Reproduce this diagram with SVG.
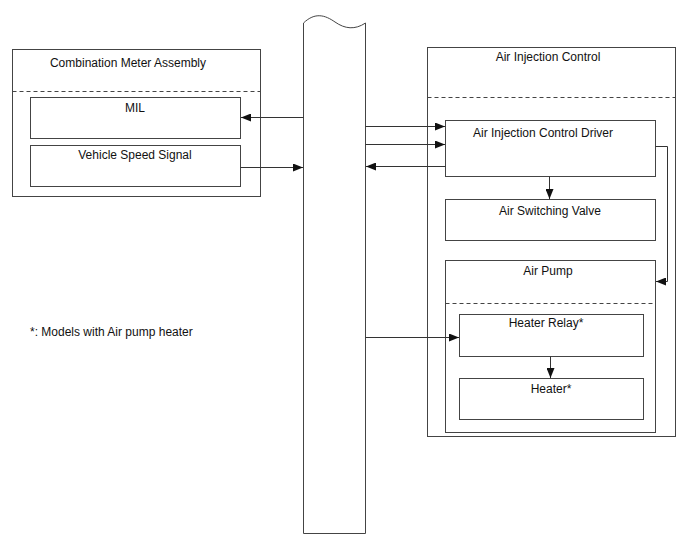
<svg xmlns="http://www.w3.org/2000/svg" width="688" height="560" viewBox="0 0 688 560">
<style>
.box{fill:#fff;stroke:#444;stroke-width:1}
.dash{stroke:#444;stroke-width:1;stroke-dasharray:4 3;fill:none}
.ln{stroke:#333;stroke-width:1;fill:none}
.t{font-family:"Liberation Sans",Arial,sans-serif;font-size:12px;fill:#111}
.c{text-anchor:middle}
</style>
<defs>
<marker id="ah" markerWidth="10" markerHeight="8" refX="10" refY="4" orient="auto" markerUnits="userSpaceOnUse">
<path d="M0,0 L10,4 L0,8 Z" fill="#111"/>
</marker>
</defs>
<rect width="688" height="560" fill="#fff"/>

<g id="bus">
<path class="box" d="M303.5,23 C315,12 325,15 335,22 C345,29 355,30 365.5,23 L365.5,533.5 L303.5,533.5 Z"/>
</g>

<g id="combination-meter">
<rect class="box" x="12.5" y="49.5" width="248" height="147"/>
<line class="dash" x1="12.5" y1="91.5" x2="260.5" y2="91.5"/>
<text class="t c" x="128" y="67">Combination Meter Assembly</text>
</g>
<g id="mil">
<rect class="box" x="30.5" y="97.5" width="210" height="41"/>
<text class="t c" x="135" y="112">MIL</text>
</g>
<g id="vss">
<rect class="box" x="30.5" y="145.5" width="210" height="41"/>
<text class="t c" x="135" y="159">Vehicle Speed Signal</text>
</g>

<g id="air-injection-control">
<rect class="box" x="427.5" y="47.5" width="248" height="389"/>
<line class="dash" x1="427.5" y1="97.5" x2="675.5" y2="97.5"/>
<text class="t c" x="548" y="61">Air Injection Control</text>
</g>
<g id="driver">
<rect class="box" x="445.5" y="120.5" width="210" height="56"/>
<text class="t c" x="543" y="137">Air Injection Control Driver</text>
</g>
<g id="asv">
<rect class="box" x="445.5" y="199.5" width="210" height="41"/>
<text class="t c" x="550" y="215">Air Switching Valve</text>
</g>
<g id="air-pump">
<rect class="box" x="445.5" y="260.5" width="210" height="172"/>
<line class="dash" x1="445.5" y1="303.5" x2="655.5" y2="303.5"/>
<text class="t c" x="548" y="275">Air Pump</text>
</g>
<g id="heater-relay">
<rect class="box" x="459.5" y="314.5" width="184" height="42"/>
<text class="t c" x="546" y="327">Heater Relay*</text>
</g>
<g id="heater">
<rect class="box" x="459.5" y="378.5" width="184" height="41"/>
<text class="t c" x="551" y="393">Heater*</text>
</g>

<g id="note">
<text class="t" x="30" y="336">*: Models with Air pump heater</text>
</g>

<g id="connectors">
<line class="ln" x1="303.5" y1="117.5" x2="241" y2="117.5" marker-end="url(#ah)"/>
<line class="ln" x1="240.5" y1="167.5" x2="303" y2="167.5" marker-end="url(#ah)"/>
<line class="ln" x1="365.5" y1="126.5" x2="445" y2="126.5" marker-end="url(#ah)"/>
<line class="ln" x1="365.5" y1="144.5" x2="445" y2="144.5" marker-end="url(#ah)"/>
<line class="ln" x1="445.5" y1="166.5" x2="366" y2="166.5" marker-end="url(#ah)"/>
<line class="ln" x1="549.5" y1="176.5" x2="549.5" y2="199" marker-end="url(#ah)"/>
<polyline class="ln" points="655.5,146.5 667.5,146.5 667.5,281.5 656,281.5" marker-end="url(#ah)"/>
<line class="ln" x1="365.5" y1="337.5" x2="459" y2="337.5" marker-end="url(#ah)"/>
<line class="ln" x1="550.5" y1="356.5" x2="550.5" y2="378" marker-end="url(#ah)"/>
</g>
</svg>
